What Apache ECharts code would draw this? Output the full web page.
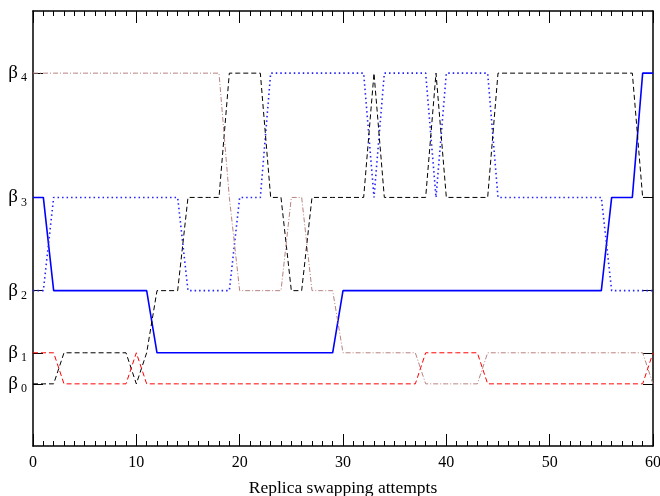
<!DOCTYPE html>
<html>
<head>
<meta charset="utf-8">
<script src="https://cdn.jsdelivr.net/npm/echarts@6/dist/echarts.min.js"></script>
<style>
  html, body { margin: 0; padding: 0; background: #fff; }
  #echart { width: 660px; height: 496px; }
</style>
</head>
<body>
<div id="echart"></div>
<script>
// beta levels on the vertical scale (index 0..4 -> beta_0..beta_4)
var betaY = [1, 1.5, 2.5, 4, 6];
var betaNames = ['0', '1', '2', '3', '4'];
var xTicks = [0, 10, 20, 30, 40, 50, 60];

// level index of each replica at attempts 0..60
var blueSolid = [3,3,2,2,2,2,2,2,2,2, 2,2,1,1,1,1,1,1,1,1, 1,1,1,1,1,1,1,1,1,1,
                 2,2,2,2,2,2,2,2,2,2, 2,2,2,2,2,2,2,2,2,2, 2,2,2,2,2,2,3,3,3,4, 4];
var blueDotted = [2,2,3,3,3,3,3,3,3,3, 3,3,3,3,3,2,2,2,2,2, 3,3,3,4,4,4,4,4,4,4,
                  4,4,4,3,4,4,4,4,4,3, 4,4,4,4,4,3,3,3,3,3, 3,3,3,3,3,3,2,2,2,2, 2];
var blackDashed = [0,0,0,1,1,1,1,1,1,1, 0,1,2,2,2,3,3,3,3,4, 4,4,4,3,3,2,2,3,3,3,
                   3,3,3,4,3,3,3,3,3,4, 3,3,3,3,3,4,4,4,4,4, 4,4,4,4,4,4,4,4,4,3, 3];
var redDashed = [1,1,1,0,0,0,0,0,0,0, 1,0,0,0,0,0,0,0,0,0, 0,0,0,0,0,0,0,0,0,0,
                 0,0,0,0,0,0,0,0,1,1, 1,1,1,1,0,0,0,0,0,0, 0,0,0,0,0,0,0,0,0,0, 1];
var rosyDashDot = [4,4,4,4,4,4,4,4,4,4, 4,4,4,4,4,4,4,4,4,3, 2,2,2,2,2,3,3,2,2,2,
                   1,1,1,1,1,1,1,1,0,0, 0,0,0,0,1,1,1,1,1,1, 1,1,1,1,1,1,1,1,1,1, 0];

function toPoints(levels) {
  return levels.map(function (lv, i) { return [i, betaY[lv]]; });
}

var font = '"Liberation Serif", "DejaVu Serif", serif';

function line(name, levels, color, width, type) {
  return {
    name: name,
    type: 'line',
    symbol: 'none',
    silent: true,
    lineStyle: { color: color, width: width, type: type },
    data: toPoints(levels)
  };
}

var xAxisBase = {
  type: 'value',
  min: 0,
  max: 60,
  interval: 10,
  axisLine: { show: true, onZero: false, lineStyle: { color: '#000', width: 1.5 } },
  axisTick: { show: true, inside: true, length: 12, lineStyle: { color: '#000', width: 1 } },
  minorTick: { show: true, splitNumber: 10, length: 5, lineStyle: { color: '#000', width: 1 } },
  splitLine: { show: false },
  minorSplitLine: { show: false }
};

var yAxisBase = {
  type: 'value',
  min: 0,
  max: 7,
  axisLine: { show: true, onZero: false, lineStyle: { color: '#000', width: 1.5 } },
  axisTick: { show: true, inside: true, length: 10, customValues: betaY, lineStyle: { color: '#000', width: 1 } },
  splitLine: { show: false }
};

const option = {
  animation: false,
  backgroundColor: '#fff',
  grid: { left: 33, right: 7, top: 11, bottom: 50, outerBoundsMode: 'none', containLabel: false },
  xAxis: [
    Object.assign({}, xAxisBase, {
      position: 'bottom',
      name: 'Replica swapping attempts',
      nameLocation: 'middle',
      nameGap: 33,
      nameTextStyle: { color: '#000', fontFamily: font, fontSize: 17.5 },
      axisLabel: {
        color: '#000', fontFamily: font, fontSize: 16, margin: 9,
        customValues: xTicks
      }
    }),
    Object.assign({}, xAxisBase, {
      position: 'top',
      axisLabel: { show: false }
    })
  ],
  yAxis: [
    Object.assign({}, yAxisBase, {
      position: 'left',
      axisLabel: {
        margin: 6,
        customValues: betaY,
        formatter: function (v) {
          var i = betaY.indexOf(v);
          return '{b|β}{s|' + betaNames[i] + '}';
        },
        rich: {
          b: { fontFamily: font, fontSize: 19, color: '#000' },
          s: { fontFamily: font, fontSize: 12, color: '#000', padding: [10, 0, 0, 3] }
        }
      }
    }),
    Object.assign({}, yAxisBase, {
      position: 'right',
      axisLabel: { show: false }
    })
  ],
  series: [
    line('replica 1', blueSolid, '#0000ff', 1.6, 'solid'),
    line('replica 2', blueDotted, '#2222ff', 1.6, [1.5, 3]),
    line('replica 3', blackDashed, '#000000', 1, [5, 3]),
    line('replica 4', redDashed, '#ff0000', 1, [5, 3]),
    line('replica 5', rosyDashDot, '#b98282', 1, [5, 2, 1, 2])
  ]
};

var chart = echarts.init(document.getElementById('echart'));
chart.setOption(option);
</script>
</body>
</html>
